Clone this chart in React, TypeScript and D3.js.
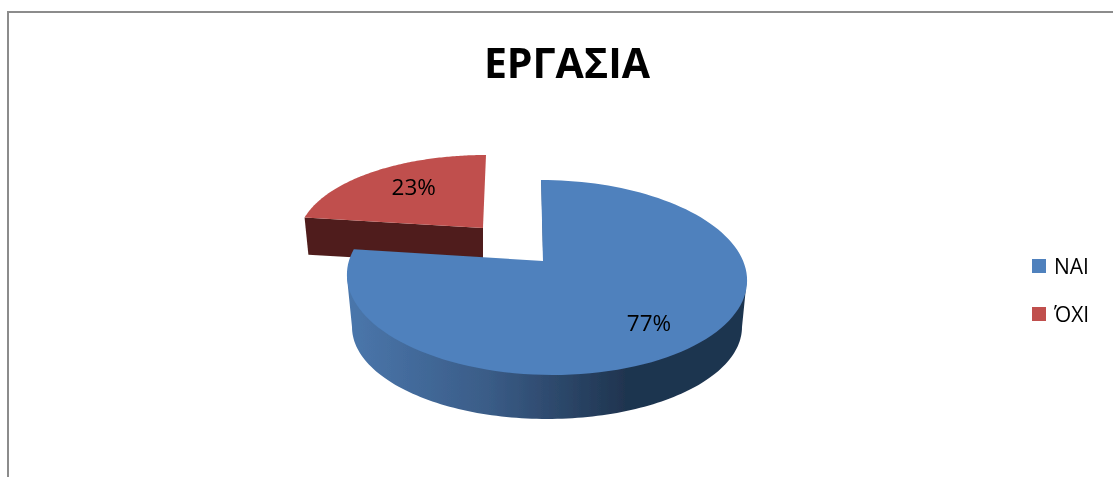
import * as d3 from "d3";
import { useEffect, useRef } from "react";

const title = "ΕΡΓΑΣΙΑ";
const categories = ["ΝΑΙ", "ΌΧΙ"];
const values = [77, 23];
const topColors = ["#4f81bd", "#c0504d"];

const width = 1113;
const height = 477;
const font = "'Open Sans', 'Noto Sans', sans-serif";

// k moves the apparent centre of the disc, this is what the 3d perspective does
type Disc = { cx: number; cy: number; rx: number; ry: number; k: number; ax: number; skew: number };

const blueTop: Disc = { cx: 547, cy: 277.5, rx: 200, ry: 97.5, k: -0.17, ax: -3, skew: 6 };
const blueBottom: Disc = { cx: 547, cy: 327, rx: 195, ry: 92, k: -0.17, ax: -3, skew: 6 };
const redTop: Disc = { cx: 492, cy: 243, rx: 194, ry: 88, k: -0.17, ax: -8, skew: 6 };
const redBottom: Disc = { cx: 492, cy: 279, rx: 190, ry: 84, k: -0.17, ax: -8, skew: 6 };

function project(d: Disc, a: number, r = 1): [number, number] {
  const x = d3.scaleLinear().domain([-1, 1]).range([d.cx - d.rx, d.cx + d.rx]);
  const y = d3.scaleLinear().domain([-1, 1]).range([d.cy - d.ry, d.cy + d.ry]);
  const u = r * Math.sin(a);
  const z = -r * Math.cos(a);
  const n = 1 + d.k * z;
  const zp = (z + d.k) / n;
  return [x((u * Math.sqrt(1 - d.k * d.k)) / n) + d.ax * (1 - r) + d.skew * zp, y(zp)];
}

function rim(d: Disc, a0: number, a1: number) {
  const n = 120;
  return d3.range(n + 1).map((i) => project(d, a0 + ((a1 - a0) * i) / n));
}

export default function App() {
  const ref = useRef<SVGSVGElement>(null);

  useEffect(() => {
    const svg = d3.select(ref.current);
    svg.selectAll("*").remove();

    const defs = svg.append("defs");
    const soft = defs.append("filter").attr("id", "soft");
    soft.append("feGaussianBlur").attr("stdDeviation", 0.55);
    const grad = defs
      .append("linearGradient")
      .attr("id", "blueSide")
      .attr("gradientUnits", "userSpaceOnUse")
      .attr("x1", 350)
      .attr("x2", 745)
      .attr("y1", 0)
      .attr("y2", 0);
    grad.append("stop").attr("offset", "0").attr("stop-color", "#4a76ab");
    grad.append("stop").attr("offset", "0.35").attr("stop-color", "#3a5c87");
    grad.append("stop").attr("offset", "0.7").attr("stop-color", "#1f344f");
    grad.append("stop").attr("offset", "1").attr("stop-color", "#1f344f");

    const root = svg.append("g").attr("filter", "url(#soft)");
    const line = d3.line();

    // frame, only top and left are in the crop
    root
      .append("path")
      .attr("d", line([[8, height], [8, 12], [width, 12]]))
      .attr("fill", "none")
      .attr("stroke", "#8c8c8c")
      .attr("stroke-width", 2);

    root
      .append("text")
      .attr("x", 567)
      .attr("y", 78)
      .attr("text-anchor", "middle")
      .attr("font-family", font)
      .attr("font-weight", 700)
      .attr("font-size", 41)
      .attr("fill", "#000")
      .text(title);

    const pie = d3.pie<number>().sort(null);
    const arcs = pie(values);
    const blue = arcs[0];
    const red = arcs[1];

    // red slice, sits behind
    root
      .append("path")
      .attr(
        "d",
        line([
          project(redTop, red.startAngle),
          project(redBottom, red.startAngle),
          project(redBottom, 0, 0),
          project(redTop, 0, 0),
        ])
      )
      .attr("fill", "#4f1f1d");
    root
      .append("path")
      .attr("d", line([project(redTop, 0, 0), ...rim(redTop, red.startAngle, red.endAngle)]) + "Z")
      .attr("fill", topColors[1]);

    // blue slice wall and top. wall closes straight across, the top face hides that edge
    const sideBottom = rim({ ...blueBottom, k: 0, skew: 0 }, Math.PI / 2, (3 * Math.PI) / 2).reverse();
    root
      .append("path")
      .attr(
        "d",
        line([
          project({ ...blueTop, k: 0, skew: 0 }, Math.PI / 2),
          project({ ...blueTop, k: 0, skew: 0 }, (3 * Math.PI) / 2),
          ...sideBottom,
        ]) + "Z"
      )
      .attr("fill", "url(#blueSide)");
    root
      .append("path")
      .attr("d", line([project(blueTop, 0, 0), project(blueTop, blue.startAngle)]))
      .attr("stroke", "#1f344f")
      .attr("stroke-width", 1.5)
      .attr("transform", "translate(1,0)");
    root
      .append("path")
      .attr("d", line([project(blueTop, 0, 0), ...rim(blueTop, blue.startAngle, blue.endAngle)]) + "Z")
      .attr("fill", topColors[0]);

    // data labels, nudged by hand from the slice middle
    const labelPos = [
      project(blueTop, (blue.startAngle + blue.endAngle) / 2, 0.66),
      project(redTop, (red.startAngle + red.endAngle) / 2, 0.62),
    ];
    const labelShift = [
      [7, 11],
      [1, -4],
    ];
    root
      .selectAll("text.pct")
      .data(arcs)
      .enter()
      .append("text")
      .attr("class", "pct")
      .attr("x", (_, i) => labelPos[i][0] + labelShift[i][0])
      .attr("y", (_, i) => labelPos[i][1] + labelShift[i][1] + 8)
      .attr("text-anchor", "middle")
      .attr("font-family", font)
      .attr("font-size", 22.5)
      .attr("fill", "#000")
      .text((d) => d.value + "%");

    // legend
    const legendY = d3.scalePoint().domain(categories).range([266, 314]);
    const legend = root
      .selectAll("g.legend")
      .data(categories)
      .enter()
      .append("g")
      .attr("class", "legend")
      .attr("transform", (d) => "translate(0," + legendY(d) + ")");
    legend
      .append("rect")
      .attr("x", 1032)
      .attr("y", -7)
      .attr("width", 14)
      .attr("height", 14)
      .attr("fill", (_, i) => topColors[i]);
    legend
      .append("text")
      .attr("x", 1054)
      .attr("y", 7.5)
      .attr("font-family", font)
      .attr("font-size", 21)
      .attr("fill", "#000")
      .text((d) => d);
  }, []);

  return (
    <svg
      ref={ref}
      width={width}
      height={height}
      style={{ position: "absolute", left: 0, top: 0, background: "#fff", display: "block" }}
    />
  );
}
